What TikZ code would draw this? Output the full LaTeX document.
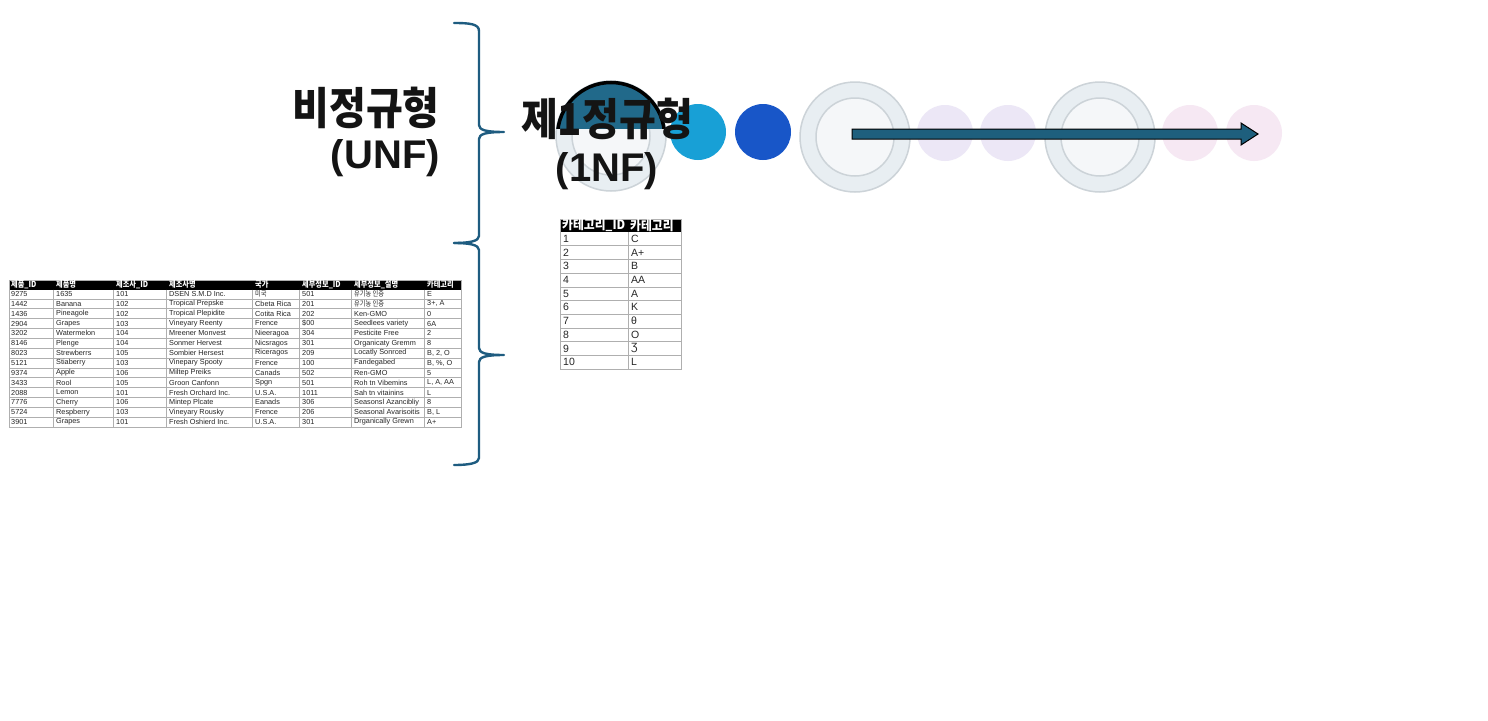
\documentclass[tikz,border=0pt]{standalone}
\usepackage{fontspec}
\setmainfont{Liberation Sans}
\newfontfamily\kr{Noto Sans CJK KR}[FakeStretch=0.91]
\newfontfamily\krs{Noto Sans CJK KR}[FakeStretch=0.85]
\newfontfamily\lat{Liberation Sans}
\usetikzlibrary{calc}
\definecolor{bracecol}{RGB}{30,92,128}
\definecolor{capcol}{RGB}{33,105,138}
\definecolor{lbcol}{RGB}{24,160,214}
\definecolor{bcol}{RGB}{24,86,200}
\definecolor{lavcol}{RGB}{236,231,246}
\definecolor{pinkcol}{RGB}{246,232,243}
\definecolor{ringfill}{RGB}{232,238,242}
\definecolor{ringline}{RGB}{204,211,216}
\definecolor{arrowcol}{RGB}{30,95,125}
\definecolor{gridcol}{RGB}{175,175,175}
\definecolor{txtcol}{RGB}{20,20,20}
\tikzset{
  ttl/.style={inner sep=0, text=txtcol, font=\kr\bfseries\fontsize{44}{48}\selectfont},
  ttllat/.style={inner sep=0, text=txtcol, font=\lat\bfseries\fontsize{40}{44}\selectfont},
  bcell/.style={anchor=west, inner sep=0, text=black!85, font=\fontsize{7.3}{8}\selectfont},
  bhead/.style={anchor=west, inner sep=0, text=white, font=\krs\bfseries\fontsize{8.5}{9}\selectfont},
  scell/.style={anchor=west, inner sep=0, text=black!85, font=\fontsize{10.5}{11}\selectfont},
  shead/.style={anchor=west, inner sep=0, text=white, font=\kr\bfseries\fontsize{13}{14}\selectfont},
  dot/.style={circle, inner sep=0, minimum size=56},
  ringo/.style={circle, inner sep=0, minimum size=110, fill=ringfill, draw=ringline, line width=1.5},
  ringi/.style={circle, inner sep=0, minimum size=78, fill=white!55!ringfill, draw=ringline, line width=1.5},
  bracepath/.style={draw=bracecol, line width=2.4, line cap=round, line join=round},
}
\newcommand\brow[9]{%
  \node[bcell] (b#1a) at (11,{289+(#1-0.5)*9.857}) {#2};
  \node[bcell] (b#1b) at (56,{289+(#1-0.5)*9.857}) {#3};
  \node[bcell] (b#1c) at (116,{289+(#1-0.5)*9.857}) {#4};
  \node[bcell] (b#1d) at (169,{289+(#1-0.5)*9.857}) {#5};
  \node[bcell] (b#1e) at (255,{289+(#1-0.5)*9.857}) {#6};
  \node[bcell] (b#1f) at (302,{289+(#1-0.5)*9.857}) {#7};
  \node[bcell] (b#1g) at (354,{289+(#1-0.5)*9.857}) {#8};
  \node[bcell] (b#1h) at (427,{289+(#1-0.5)*9.857}) {#9};
}
\newcommand\srow[3]{%
  \node[scell] (s#1a) at (563,{232+(#1-0.5)*13.7}) {#2};
  \node[scell] (s#1b) at (631,{232+(#1-0.5)*13.7}) {#3};
}
\begin{document}
\begin{tikzpicture}[x=1pt,y=-1pt]
\useasboundingbox[fill=white] (0,0) rectangle (1488,720);

% ---------- braces ----------
\coordinate (bA) at (454,23);
\coordinate (bB) at (454,243);
\coordinate (bC) at (454,465);
\coordinate (tip1) at (504,132);
\coordinate (tip2) at (504,355);
\draw[bracepath] (bA) .. controls (470,23) and (479,24) .. (479,31)
  -- (479,125) .. controls (479,130) and (486,132) .. (tip1)
  .. controls (486,132) and (479,134) .. (479,139)
  -- (479,236) .. controls (479,241) and (470,243) .. (bB);
\draw[bracepath] (bB) .. controls (470,243) and (479,245) .. (479,250)
  -- (479,348) .. controls (479,353) and (486,355) .. (tip2)
  .. controls (486,355) and (479,357) .. (479,362)
  -- (479,458) .. controls (479,463) and (470,465) .. (bC);

% ---------- circles row ----------
\node[ringo] (r0) at (611,136) {};
\node[ringi] (r0i) at (611,136) {};
\begin{scope}
  \clip (540,60) rectangle (690,128);
  \fill[capcol] (r0.center) circle (55);
  \draw[black, line width=3.5] (r0.center) circle (53.5);
\end{scope}
\node[dot, fill=lbcol] (c1) at (698,132) {};
\node[dot, fill=bcol] (c2) at (763,132) {};
\node[ringo] (r1) at (855,137) {};
\node[ringi] (r1i) at (855,137) {};
\node[dot, fill=lavcol] (c3) at (945,133) {};
\node[dot, fill=lavcol] (c4) at (1008,133) {};
\node[ringo] (r2) at (1100,137) {};
\node[ringi] (r2i) at (1100,137) {};
\node[dot, fill=pinkcol] (c5) at (1190,133) {};
\node[dot, fill=pinkcol] (c6) at (1254,133) {};
% arrow from ring 1 to the last pink circle
\coordinate (a0) at ($(r1.center)+(-3,-3)$);
\coordinate (a1) at ($(c6.center)+(4,1)$);
\filldraw[fill=arrowcol, draw=black, line width=1, line join=miter]
  ($(a0)+(0,-5)$) -- ($(a1)+(-17,-5)$) -- ($(a1)+(-17,-11)$) -- (a1)
  -- ($(a1)+(-17,11)$) -- ($(a1)+(-17,5)$) -- ($(a0)+(0,5)$) -- cycle;

% ---------- titles ----------
\node[ttl, anchor=base east] (unf1) at (440,124) {비정규형};
\node[ttllat, anchor=base east] (unf2) at (440,168) {(UNF)};
\node[ttl, anchor=base] (nf1) at (607,135) {제1정규형};
\node[ttllat, anchor=base] (nf2) at (607,181) {(1NF)};

% ---------- big table ----------
\fill[white] (9,280) rectangle (461,427);
\fill[black] (9,280) rectangle (461,289.5);
\foreach \k in {1,...,13} \draw[gridcol, line width=0.6] (9,{289+\k*9.857}) -- (461,{289+\k*9.857});
\foreach \xx in {53,113,166,252,299,351,424} \draw[gridcol, line width=0.6] (\xx,289.5) -- (\xx,427);
\draw[gridcol, line width=0.8] (9,280) rectangle (461,427);
\node[bhead] (h1) at (11,284.8) {제품\_ID};
\node[bhead] (h2) at (56,284.8) {제품명};
\node[bhead] (h3) at (116,284.8) {제조사\_ID};
\node[bhead] (h4) at (169,284.8) {제조사명};
\node[bhead] (h5) at (255,284.8) {국가};
\node[bhead] (h6) at (302,284.8) {세부정보\_ID};
\node[bhead] (h7) at (354,284.8) {세부정보\_설명};
\node[bhead] (h8) at (427,284.8) {카테고리};
\brow{1}{9275}{1635}{101}{DSEN S.M.D Inc.}{\krs 미국}{501}{\krs 유기농 인증}{E}
\brow{2}{1442}{Banana}{102}{Tropical Prepske}{Cbeta Rica}{201}{\krs 유기농 인증}{3+, A}
\brow{3}{1436}{Pineagole}{102}{Tropical Plepidite}{Cotita Rica}{202}{Ken-GMO}{0}
\brow{4}{2904}{Grapes}{103}{Vineyary Reenty}{Frence}{\$00}{Seedlees variety}{6A}
\brow{5}{3202}{Watermelon}{104}{Mreener Monvest}{Nieeragoa}{304}{Pesticite Free}{2}
\brow{6}{8146}{Plenge}{104}{Sonmer Hervest}{Nicsragos}{301}{Organicaty Gremm}{8}
\brow{7}{8023}{Strewberrs}{105}{Sombier Hersest}{Riceragos}{209}{Locatly Sonrced}{B, 2, O}
\brow{8}{5121}{Stiaberry}{103}{Vinepary Spooty}{Frence}{100}{Fandegabed}{B, \%, O}
\brow{9}{9374}{Apple}{106}{Miltep Preiks}{Canads}{502}{Ren-GMO}{5}
\brow{10}{3433}{Rool}{105}{Groon Canfonn}{Spgn}{501}{Roh tn Vibemins}{L, A, AA}
\brow{11}{2088}{Lemon}{101}{Fresh Orchard Inc.}{U.S.A.}{1011}{Sah tn vitainins}{L}
\brow{12}{7776}{Cherry}{106}{Mintep Plcate}{Eanads}{306}{Seasonsl Azancibliy}{8}
\brow{13}{5724}{Respberry}{103}{Vineyary Rousky}{Frence}{206}{Seasonal Avarisoitis}{B, L}
\brow{14}{3901}{Grapes}{101}{Fresh Oshierd Inc.}{U.S.A.}{301}{Drganically Grewn}{A+}

% ---------- small table ----------
\fill[white] (560,219) rectangle (681,369);
\fill[black] (560,219) rectangle (681,232);
\foreach \k in {1,...,9} \draw[gridcol, line width=0.6] (560,{232+\k*13.7}) -- (681,{232+\k*13.7});
\draw[gridcol, line width=0.6] (628.5,232) -- (628.5,369);
\draw[gridcol, line width=0.8] (560,219) rectangle (681,369);
\node[shead] (sh1) at (562,225.5) {카테고리\_ID};
\node[shead] (sh2) at (630,225.5) {카테고리};
\srow{1}{1}{C}
\srow{2}{2}{A+}
\srow{3}{3}{B}
\srow{4}{4}{AA}
\srow{5}{5}{A}
\srow{6}{6}{K}
\srow{7}{7}{θ}
\srow{8}{8}{O}
\srow{9}{9}{Ʒ}
\srow{10}{10}{L}
\end{tikzpicture}
\end{document}
